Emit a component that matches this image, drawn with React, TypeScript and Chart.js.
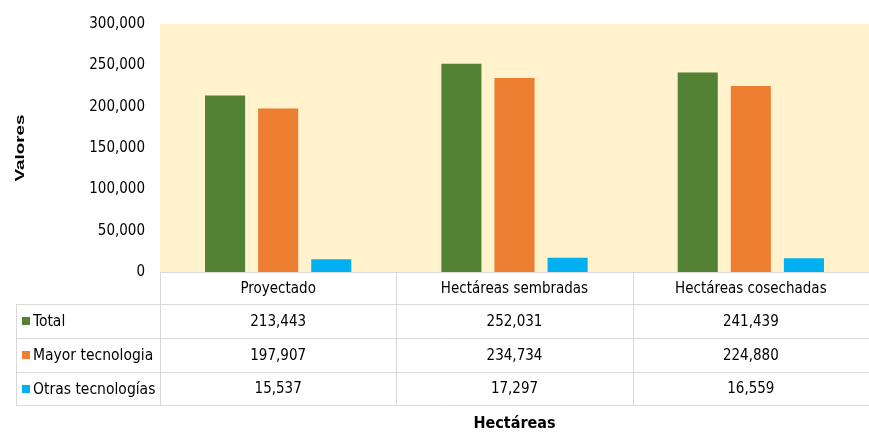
import React, { useEffect, useRef } from "react";
import { Chart, registerables } from "chart.js";

Chart.register(...registerables);

const categories = ["Proyectado", "Hectáreas sembradas", "Hectáreas cosechadas"];
const seriesNames = ["Total", "Mayor tecnologia", "Otras tecnologías"];
const totalValues = [213443, 252031, 241439];
const mayorValues = [197907, 234734, 224880];
const otrasValues = [15537, 17297, 16559];
const seriesColors = ["#548235", "#ED7D31", "#00B0F0"];
const yTitle = "Valores";
const xTitle = "Hectáreas";

const FONT = '"Liberation Sans Narrow", "DejaVu Sans Condensed", sans-serif';
const TEXT = "#000000";
const LINE = "#D9D9D9";

const fmt = (v: number) => v.toLocaleString("en-US");

const tablePlugin = {
  id: "tablePlugin",
  beforeDraw(chart: any) {
    const { ctx, chartArea } = chart;
    ctx.save();
    ctx.fillStyle = "#FFF2CC";
    ctx.fillRect(chartArea.left, chartArea.top, chartArea.right - chartArea.left, chartArea.bottom - chartArea.top);
    ctx.restore();
  },
  afterDraw(chart: any) {
    const { ctx, chartArea } = chart;
    const xs = chart.scales.x;
    const n = categories.length;
    const left = chartArea.left;
    const right = chartArea.right;
    const tableLeft = 16;
    const rows = [chartArea.bottom, 304, 338, 372, 405];
    const bounds: number[] = [left];
    for (let i = 0; i < n - 1; i++) {
      bounds.push((xs.getPixelForValue(i) + xs.getPixelForValue(i + 1)) / 2);
    }
    ctx.save();
    ctx.strokeStyle = LINE;
    ctx.lineWidth = 1;
    ctx.beginPath();
    ctx.moveTo(left, rows[0] + 0.5);
    ctx.lineTo(right, rows[0] + 0.5);
    for (let r = 1; r < rows.length; r++) {
      ctx.moveTo(tableLeft, rows[r] + 0.5);
      ctx.lineTo(right, rows[r] + 0.5);
    }
    ctx.moveTo(tableLeft + 0.5, rows[1]);
    ctx.lineTo(tableLeft + 0.5, rows[4]);
    for (const b of bounds) {
      ctx.moveTo(Math.round(b) + 0.5, rows[0]);
      ctx.lineTo(Math.round(b) + 0.5, rows[4]);
    }
    ctx.stroke();

    ctx.fillStyle = TEXT;
    ctx.font = `15px ${FONT}`;
    ctx.textAlign = "center";
    ctx.textBaseline = "middle";
    for (let i = 0; i < n; i++) {
      ctx.fillText(categories[i], xs.getPixelForValue(i), (rows[0] + rows[1]) / 2 + 1);
    }
    const data = [totalValues, mayorValues, otrasValues];
    for (let s = 0; s < data.length; s++) {
      const cy = (rows[s + 1] + rows[s + 2]) / 2 + 1;
      ctx.textAlign = "center";
      ctx.fillStyle = TEXT;
      for (let i = 0; i < n; i++) {
        ctx.fillText(fmt(data[s][i]), xs.getPixelForValue(i), cy);
      }
      ctx.fillStyle = seriesColors[s];
      ctx.fillRect(22, Math.round(cy - 5), 8, 8);
      ctx.fillStyle = TEXT;
      ctx.textAlign = "left";
      ctx.font = `15.5px ${FONT}`;
      ctx.fillText(seriesNames[s], 33, cy);
      ctx.font = `15px ${FONT}`;
    }

    ctx.font = `bold 16px ${FONT}`;
    ctx.textAlign = "center";
    ctx.fillText(xTitle, (left + right) / 2, 424);

    ctx.translate(20, (chartArea.top + chartArea.bottom) / 2);
    ctx.rotate(-Math.PI / 2);
    ctx.scale(1.45, 1);
    ctx.font = `bold 13px "Liberation Sans", Arial, sans-serif`;
    ctx.fillText(yTitle, 0, 0);
    ctx.restore();
  },
};

export default function App() {
  const ref = useRef<HTMLCanvasElement | null>(null);
  useEffect(() => {
    document.body.style.margin = "0";
    if (!ref.current) return;
    const chart = new Chart(ref.current, {
      type: "bar",
      data: {
        labels: categories,
        datasets: [
          { label: seriesNames[0], data: totalValues, backgroundColor: seriesColors[0] },
          { label: seriesNames[1], data: mayorValues, backgroundColor: seriesColors[1] },
          { label: seriesNames[2], data: otrasValues, backgroundColor: seriesColors[2] },
        ],
      },
      options: {
        animation: false,
        responsive: true,
        maintainAspectRatio: false,
        layout: { padding: { left: 0, right: 0, top: 20, bottom: 160 } },
        datasets: { bar: { categoryPercentage: 0.674, barPercentage: 0.755 } },
        plugins: { legend: { display: false }, tooltip: { enabled: false } },
        scales: {
          x: { display: false },
          y: {
            min: 0,
            max: 300000,
            grid: { display: false, drawTicks: false },
            border: { display: false },
            ticks: {
              stepSize: 50000,
              padding: 15,
              color: TEXT,
              font: { family: FONT, size: 15 },
              callback: (v: any) => fmt(Number(v)),
            },
            afterFit: (s: any) => {
              s.width = 160;
            },
          },
        },
      },
      plugins: [tablePlugin],
    });
    return () => chart.destroy();
  }, []);
  return (
    <div style={{ position: "absolute", left: 0, top: 0, width: 869, height: 432 }}>
      <canvas ref={ref} />
    </div>
  );
}
